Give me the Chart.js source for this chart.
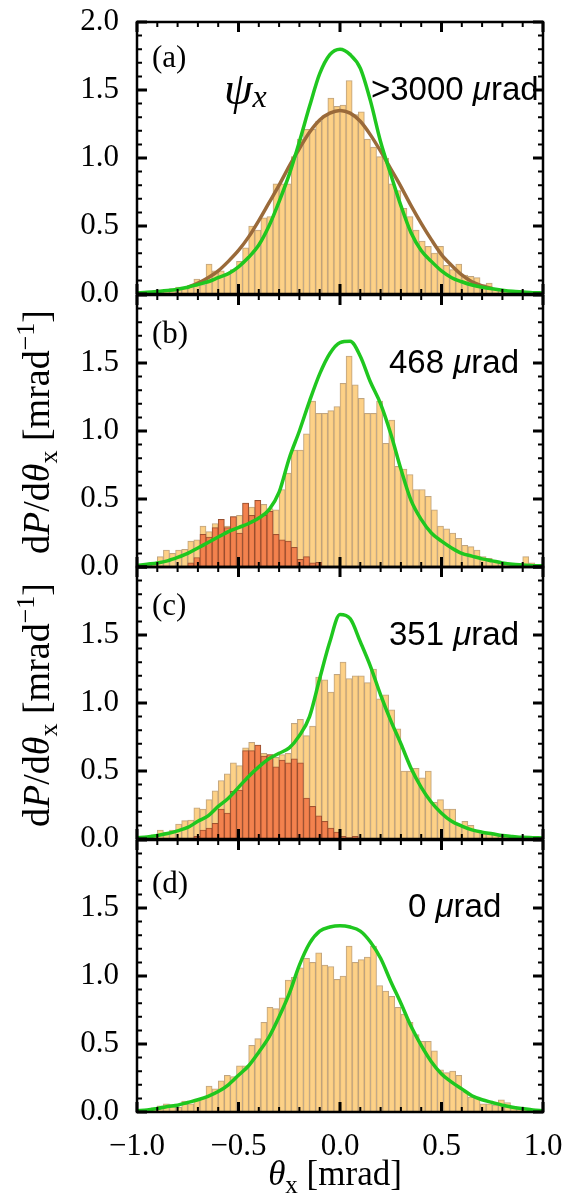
<!DOCTYPE html>
<html>
<head>
<meta charset="utf-8">
<script src="https://cdn.jsdelivr.net/npm/chart.js@4.4.0/dist/chart.umd.min.js"></script>
<style>
  body { margin: 0; background: #fff; }
  #wrap { position: relative; width: 566px; height: 1196px; }
  canvas { position: absolute; left: 0; }
</style>
</head>
<body>
<div id="wrap">
  <canvas id="pa" width="566" height="310" style="top:0px"></canvas>
  <canvas id="pb" width="566" height="302" style="top:280px"></canvas>
  <canvas id="pc" width="566" height="302" style="top:552px"></canvas>
  <canvas id="pd" width="566" height="371" style="top:825px"></canvas>
</div>
<script>
// histogram bins (0.03 mrad wide) and sample points of the curves
const binCenters = Array.from({length: 66}, (_, i) => -0.975 + 0.03 * i);
const curveX = Array.from({length: 41}, (_, i) => -1 + 0.05 * i);
const fitX = Array.from({length: 31}, (_, i) => -0.75 + 0.05 * i);

const histA = [0.01,0.02,0.01,0.03,0.03,0.04,0.05,0.05,0.06,0.11,
  0.07,0.22,0.17,0.17,0.15,0.18,0.24,0.34,0.50,0.47,
  0.56,0.57,0.81,0.81,0.81,1.01,1.14,1.21,1.21,1.27,
  1.31,1.44,1.38,1.39,1.57,1.32,1.34,1.14,1.08,1.01,
  1.00,0.81,0.76,0.63,0.57,0.47,0.39,0.35,0.30,0.35,
  0.21,0.18,0.22,0.14,0.13,0.12,0.07,0.08,0.04,0.03,
  0.02,0.02,0.01,0.02,0.01,0.01];

const histB = [0.01,0.02,0.03,0.076,0.125,0.10,0.125,0.13,0.19,0.20,
  0.30,0.26,0.32,0.35,0.30,0.37,0.38,0.47,0.44,0.49,
  0.46,0.43,0.42,0.57,0.69,0.86,0.86,0.98,1.22,1.13,
  1.13,1.15,1.18,1.35,1.55,1.34,1.24,1.13,1.13,1.22,
  0.91,1.08,0.74,0.72,0.68,0.57,0.57,0.52,0.42,0.30,
  0.28,0.25,0.21,0.16,0.15,0.125,0.076,0.064,0.04,0.03,
  0.02,0.02,0.02,0.076,0.03,0.01];
const selB = [0,0,0,0,0,0,0,0,0.03,0.07,
  0.24,0.22,0.29,0.35,0.29,0.37,0.25,0.47,0.38,0.49,
  0.38,0.41,0.24,0.20,0.19,0.145,0.056,0.076,0.03,0.035,
  0,0,0,0,0,0,0,0,0,0,
  0,0,0,0,0,0,0,0,0,0,
  0,0,0,0,0,0,0,0,0,0,
  0,0,0,0,0,0];

const histC = [0.01,0.02,0.03,0.066,0.05,0.066,0.11,0.135,0.14,0.23,
  0.22,0.29,0.355,0.43,0.48,0.56,0.54,0.67,0.71,0.69,
  0.63,0.62,0.60,0.62,0.63,0.85,0.88,0.76,0.83,1.19,
  1.17,1.08,1.21,1.30,1.18,1.20,1.20,1.15,1.25,1.03,
  1.06,0.95,0.81,0.50,0.50,0.52,0.45,0.50,0.27,0.29,
  0.22,0.22,0.11,0.13,0.10,0.06,0.04,0.05,0.035,0.02,
  0.02,0.015,0.02,0.01,0.01,0.01];
const selC = [0,0,0,0,0,0,0,0,0,0.02,
  0.066,0.08,0.115,0.22,0.19,0.35,0.36,0.65,0.65,0.69,
  0.61,0.62,0.53,0.58,0.56,0.59,0.56,0.30,0.24,0.17,
  0.13,0.08,0.05,0.02,0.01,0.02,0,0,0,0,
  0,0,0,0,0,0,0,0,0,0,
  0,0,0,0,0,0,0,0,0,0,
  0,0,0,0,0,0];

const histD = [0.01,0.02,0.03,0.045,0.06,0.055,0.035,0.08,0.06,0.09,
  0.10,0.19,0.17,0.23,0.27,0.26,0.34,0.34,0.49,0.54,
  0.66,0.77,0.76,0.84,0.97,0.99,1.06,1.13,1.10,1.17,
  1.08,1.07,0.975,1.00,1.22,1.10,1.12,1.14,1.22,0.93,
  0.89,0.85,0.77,0.72,0.66,0.57,0.52,0.52,0.45,0.31,
  0.29,0.30,0.27,0.15,0.11,0.11,0.06,0.06,0.05,0.09,
  0.07,0.04,0.03,0.02,0.01,0.01];

const greenA = [0.008,0.012,0.018,0.025,0.035,0.05,0.07,0.09,0.12,0.15,
  0.20,0.27,0.36,0.50,0.68,0.88,1.12,1.38,1.62,1.76,
  1.80,
  1.76,1.66,1.42,1.12,0.88,0.65,0.45,0.32,0.24,0.17,
  0.12,0.09,0.066,0.05,0.038,0.028,0.02,0.015,0.01,0.008];
const greenB = [0.01,0.02,0.03,0.045,0.07,0.10,0.14,0.18,0.22,0.26,
  0.29,0.32,0.36,0.42,0.55,0.80,1.00,1.22,1.42,1.57,
  1.65,
  1.66,1.55,1.36,1.20,0.98,0.72,0.49,0.35,0.25,0.19,
  0.14,0.10,0.08,0.06,0.045,0.03,0.02,0.015,0.01,0.01];
const greenC = [0.01,0.015,0.025,0.04,0.06,0.085,0.13,0.17,0.24,0.30,
  0.38,0.46,0.53,0.59,0.63,0.67,0.76,0.90,1.18,1.45,
  1.65,
  1.62,1.45,1.27,1.06,0.87,0.70,0.52,0.38,0.27,0.19,
  0.13,0.095,0.067,0.05,0.038,0.025,0.018,0.012,0.01,0.008];
const greenD = [0.01,0.015,0.025,0.04,0.05,0.07,0.09,0.115,0.15,0.20,
  0.27,0.34,0.44,0.55,0.70,0.87,1.08,1.24,1.33,1.36,
  1.37,
  1.36,1.33,1.25,1.13,0.96,0.80,0.63,0.49,0.37,0.28,
  0.22,0.17,0.12,0.09,0.07,0.05,0.035,0.025,0.015,0.01];
const fitA = [0.05,0.08,0.12,0.17,0.24,0.32,0.42,0.54,0.67,0.80,
  0.94,1.07,1.19,1.28,1.33,1.35,1.33,1.27,1.17,1.05,
  0.92,0.79,0.65,0.52,0.40,0.29,0.21,0.14,0.09,0.06,0.04];

const yTicks = [0, 0.5, 1.0, 1.5, 2.0];
const xTicks = [-1.0, -0.5, 0.0, 0.5, 1.0];

const SERIF = '"Liberation Serif", "Times New Roman", serif';
const SANS = '"Liberation Sans", Arial, sans-serif';
const LIGHT = 'rgba(253, 205, 125, 0.92)';
const LIGHT_EDGE = 'rgba(185, 155, 115, 0.9)';
const DARK = 'rgba(242, 125, 75, 0.95)';
const DARK_EDGE = 'rgba(150, 70, 40, 0.9)';
const GREEN = '#1fc71f';
const BROWN = '#9a6a3a';

function pts(xs, ys) {
  return xs.map((x, i) => ({x: x, y: ys[i]}));
}

function drawParts(ctx, parts, x, y, align) {
  let total = 0;
  parts.forEach(p => { ctx.font = p[1]; total += ctx.measureText(p[0]).width; });
  let cx = align === 'center' ? x - total / 2 : x;
  parts.forEach(p => {
    ctx.font = p[1];
    ctx.fillText(p[0], cx, y + (p[2] || 0));
    cx += ctx.measureText(p[0]).width;
  });
}

const yTitle = [
  ['d', '38px ' + SERIF], ['P', 'italic 38px ' + SERIF], ['/d', '38px ' + SERIF],
  ['\u03b8', 'italic 38px ' + SERIF], ['x', '26px ' + SERIF, 8],
  [' [mrad', '38px ' + SERIF], ['\u22121', '26px ' + SERIF, -15], [']', '38px ' + SERIF]
];

const framePlugin = {
  id: 'frame',
  afterDatasetsDraw(chart, args, opts) {
    const ctx = chart.ctx;
    const a = chart.chartArea;
    const sx = chart.scales.x, sy = chart.scales.y;
    ctx.save();
    ctx.strokeStyle = '#000';
    ctx.lineCap = 'butt';
    for (let k = -10; k <= 10; k++) {
      const px = sx.getPixelForValue(k / 10);
      const major = k % 5 === 0;
      const len = major ? 10 : 5;
      ctx.lineWidth = major ? 3 : 2;
      ctx.beginPath();
      ctx.moveTo(px, a.bottom); ctx.lineTo(px, a.bottom - len);
      ctx.moveTo(px, a.top); ctx.lineTo(px, a.top + len);
      ctx.stroke();
    }
    for (let k = 0; k <= 20; k++) {
      const py = sy.getPixelForValue(k / 10);
      const major = k % 5 === 0;
      const len = major ? 10 : 5;
      ctx.lineWidth = major ? 3 : 2;
      ctx.beginPath();
      ctx.moveTo(a.left, py); ctx.lineTo(a.left + len, py);
      ctx.moveTo(a.right, py); ctx.lineTo(a.right - len, py);
      ctx.stroke();
    }
    ctx.lineWidth = 2.5;
    ctx.strokeRect(a.left, a.top, a.right - a.left, a.bottom - a.top);

    ctx.fillStyle = '#000';
    ctx.textBaseline = 'alphabetic';
    (opts.texts || []).forEach(t => drawParts(ctx, t.parts, t.x, t.y, t.align));
    if (opts.yTitle) {
      ctx.save();
      ctx.translate(37, opts.yTitle);
      ctx.rotate(-Math.PI / 2);
      drawParts(ctx, yTitle, 0, 12, 'center');
      ctx.restore();
    }
    if (opts.xTitle) {
      drawParts(ctx, [
        ['\u03b8', 'italic 35px ' + SERIF], ['x', '25px ' + SERIF, 8], [' [mrad]', '35px ' + SERIF]
      ], 335, opts.xTitle, 'center');
    }
    ctx.restore();
  }
};

function rad(value, x, y) {
  return {x: x, y: y, parts: [
    [value + ' ', '33px ' + SANS], ['\u03bc', 'italic 33px ' + SANS], ['rad', '33px ' + SANS]
  ]};
}

function drawPanel(canvasID, p) {
  const datasets = [{
    type: 'bar',
    data: pts(binCenters, p.hist),
    backgroundColor: LIGHT,
    borderColor: LIGHT_EDGE,
    borderWidth: 1,
    barPercentage: 1,
    categoryPercentage: 1,
    grouped: false,
    order: 4
  }];
  if (p.sel) {
    datasets.push({
      type: 'bar',
      data: pts(binCenters, p.sel),
      backgroundColor: DARK,
      borderColor: DARK_EDGE,
      borderWidth: 1,
      barPercentage: 1,
      categoryPercentage: 1,
      grouped: false,
      order: 3
    });
  }
  if (p.fit) {
    datasets.push({
      type: 'line',
      data: pts(fitX, p.fit),
      borderColor: BROWN,
      borderWidth: 3.5,
      pointRadius: 0,
      cubicInterpolationMode: 'monotone',
      order: 2
    });
  }
  datasets.push({
    type: 'line',
    data: pts(curveX, p.green),
    borderColor: GREEN,
    borderWidth: 3.5,
    pointRadius: 0,
    cubicInterpolationMode: 'monotone',
    order: 1
  });

  const showX = !!p.xTitle;
  new Chart(document.getElementById(canvasID).getContext('2d'), {
    type: 'bar',
    data: {datasets: datasets},
    options: {
      responsive: false,
      animation: false,
      events: [],
      layout: {padding: {left: 0, right: 23, top: p.padTop, bottom: p.padBottom}},
      plugins: {
        legend: {display: false},
        tooltip: {enabled: false},
        frame: {texts: p.texts, yTitle: p.yTitle, xTitle: p.xTitle}
      },
      scales: {
        x: {
          type: 'linear',
          min: -1,
          max: 1,
          offset: false,
          display: showX,
          grid: {display: false},
          border: {display: false},
          afterBuildTicks: s => { s.ticks = xTicks.map(v => ({value: v})); },
          afterFit: s => {
            if (showX) s.height = 84;
            s.paddingLeft = 0; s.paddingRight = 0;
          },
          ticks: {
            autoSkip: false,
            maxRotation: 0,
            padding: 8,
            color: '#000',
            font: {family: SERIF, size: 31},
            callback: v => (v < 0 ? '\u2212' : '') + Math.abs(v).toFixed(1)
          }
        },
        y: {
          min: 0,
          max: 2,
          grid: {display: false},
          border: {display: false},
          afterBuildTicks: s => { s.ticks = yTicks.map(v => ({value: v})); },
          afterFit: s => {
            s.width = 137;
            s.paddingTop = 0; s.paddingBottom = 0;
          },
          ticks: {
            padding: 10,
            color: '#000',
            font: {family: SERIF, size: 31},
            callback: v => (v === 2 && !p.top) ? '' : v.toFixed(1)
          }
        }
      }
    },
    plugins: [framePlugin]
  });
}

window.addEventListener('load', () => {
  drawPanel('pa', {
    hist: histA, green: greenA, fit: fitA, top: true, padTop: 22, padBottom: 16,
    texts: [
      {x: 152, y: 67, parts: [['(a)', '31px ' + SERIF]]},
      {x: 224, y: 104, parts: [['\u03c8', 'italic 46px ' + SERIF], ['x', 'italic 32px ' + SERIF, 3]]},
      rad('>3000', 371, 100)
    ]
  });
  drawPanel('pb', {
    hist: histB, sel: selB, green: greenB, padTop: 15, padBottom: 15, yTitle: 152,
    texts: [
      {x: 152, y: 63, parts: [['(b)', '31px ' + SERIF]]},
      rad('468', 389, 93)
    ]
  });
  drawPanel('pc', {
    hist: histC, sel: selC, green: greenC, padTop: 15, padBottom: 15, yTitle: 153,
    texts: [
      {x: 152, y: 63, parts: [['(c)', '31px ' + SERIF]]},
      rad('351', 389, 93)
    ]
  });
  drawPanel('pd', {
    hist: histD, green: greenD, padTop: 15, padBottom: 0, xTitle: 360,
    texts: [
      {x: 152, y: 68, parts: [['(d)', '31px ' + SERIF]]},
      rad('0', 408, 92)
    ]
  });
});
</script>
</body>
</html>
